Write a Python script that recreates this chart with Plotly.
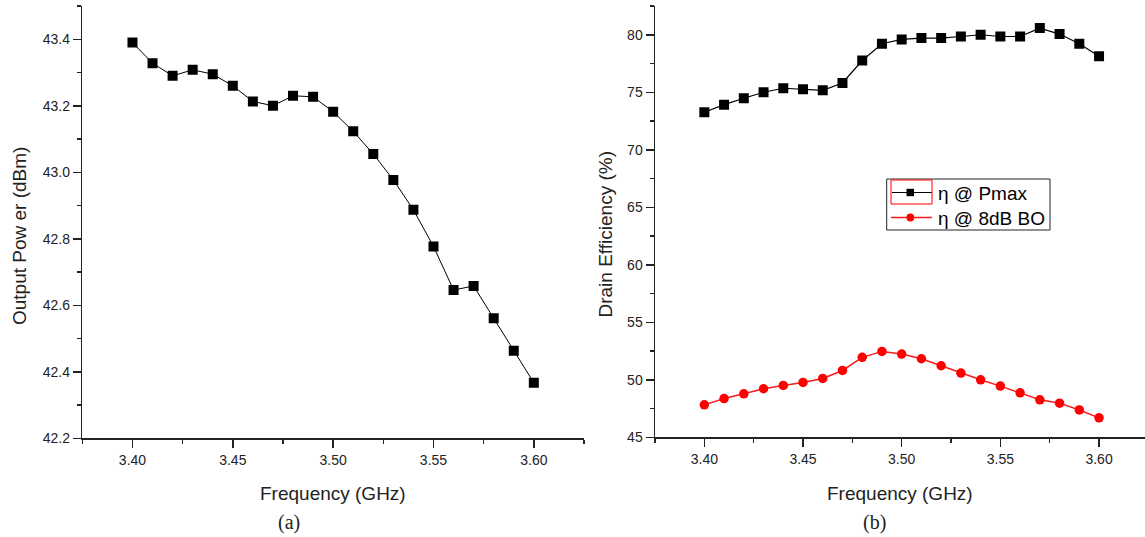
import plotly.graph_objects as go

freq = [3.40, 3.41, 3.42, 3.43, 3.44, 3.45, 3.46, 3.47, 3.48, 3.49, 3.50,
        3.51, 3.52, 3.53, 3.54, 3.55, 3.56, 3.57, 3.58, 3.59, 3.60]

pout = [43.39, 43.328, 43.29, 43.308, 43.295, 43.26, 43.213, 43.20, 43.23, 43.227, 43.182,
        43.123, 43.055, 42.977, 42.887, 42.777, 42.646, 42.658, 42.561, 42.463, 42.367]

eff_pmax = [73.26, 73.92, 74.48, 75.0, 75.35, 75.26, 75.17, 75.81, 77.76, 79.22, 79.59,
            79.71, 79.71, 79.85, 80.0, 79.85, 79.85, 80.58, 80.06, 79.22, 78.14]

eff_bo = [47.82, 48.37, 48.78, 49.22, 49.51, 49.77, 50.12, 50.81, 51.95, 52.47, 52.24,
          51.83, 51.22, 50.58, 50.0, 49.45, 48.87, 48.26, 47.97, 47.38, 46.69]

series_names = ["η @ Pmax", "η @ 8dB BO"]

W, H = 1145, 537
FONT = "Liberation Sans, Arial, sans-serif"
SERIF = "Liberation Serif, Times New Roman, serif"
AX = "#222222"
RED = "#ff1a1a"

def px_x(p):
    return p / W

def px_y(p):
    return 1 - p / H

fig = go.Figure()

fig.add_trace(go.Scatter(
    x=freq, y=pout, mode="lines+markers", xaxis="x", yaxis="y",
    line=dict(color="black", width=1),
    marker=dict(symbol="square", size=10, color="black"),
    showlegend=False))

fig.add_trace(go.Scatter(
    x=freq, y=eff_pmax, mode="lines+markers", xaxis="x2", yaxis="y2",
    name=series_names[0],
    line=dict(color="black", width=1.2),
    marker=dict(symbol="square", size=10, color="black"),
    showlegend=False))

fig.add_trace(go.Scatter(
    x=freq, y=eff_bo, mode="lines+markers", xaxis="x2", yaxis="y2",
    name=series_names[1],
    line=dict(color=RED, width=1.5),
    marker=dict(symbol="circle", size=9.5, color="red"),
    showlegend=False))

xcommon = dict(
    showgrid=False, zeroline=False, showline=True, linecolor=AX, linewidth=1.5,
    ticks="outside", ticklen=8, tickwidth=1.5, tickcolor=AX,
    tick0=3.40, dtick=0.05, tickformat=".2f",
    minor=dict(ticks="outside", ticklen=4, tickwidth=1.5, tickcolor=AX, dtick=0.025, tick0=3.375),
    tickfont=dict(family=FONT, size=14, color="#222"),
    automargin=False, fixedrange=True,
)
ycommon = dict(
    showgrid=False, zeroline=False, showline=True, linecolor=AX, linewidth=1.5,
    ticks="outside", ticklen=8, tickwidth=1.5, tickcolor=AX,
    tickfont=dict(family=FONT, size=14, color="#222"),
    automargin=False, fixedrange=True,
)

fig.update_layout(
    width=W, height=H,
    margin=dict(l=0, r=0, t=0, b=0),
    paper_bgcolor="white", plot_bgcolor="white",
    template="none",
    showlegend=False,
    hovermode=False,
    xaxis=dict(domain=[px_x(82.3), px_x(584)], range=[3.375, 3.625], anchor="y", **xcommon),
    yaxis=dict(domain=[px_y(438.3), px_y(6)], range=[42.2, 43.5], anchor="x",
               tick0=42.2, dtick=0.2, tickformat=".1f",
               minor=dict(ticks="outside", ticklen=4, tickwidth=1.5, tickcolor=AX, dtick=0.1, tick0=42.2),
               **ycommon),
    xaxis2=dict(domain=[px_x(655), 1.0], range=[3.375, 3.40 + (1145 - 704) / 1975.0], anchor="y2", **xcommon),
    yaxis2=dict(domain=[px_y(437.3), px_y(6)], range=[45, 82.5], anchor="x2",
                tick0=45, dtick=5,
                minor=dict(ticks="outside", ticklen=4, tickwidth=1.5, tickcolor=AX, dtick=2.5, tick0=45),
                **ycommon),
)

# ---- legend (drawn as decoration in pixel positions) ----
def rect(x0, y0, x1, y1, line_color, fill="rgba(0,0,0,0)", lw=1):
    fig.add_shape(type="rect", xref="paper", yref="paper",
                  x0=px_x(x0), x1=px_x(x1), y0=px_y(y1), y1=px_y(y0),
                  line=dict(color=line_color, width=lw), fillcolor=fill)

def hline(x0, x1, y, color, lw):
    fig.add_shape(type="line", xref="paper", yref="paper",
                  x0=px_x(x0), x1=px_x(x1), y0=px_y(y), y1=px_y(y),
                  line=dict(color=color, width=lw))

rect(886.7, 179, 1050, 230, "#222", fill="white", lw=1)
row_y = [192.5, 217.5]
hline(892, 932, row_y[0], "black", 1.2)
rect(906.5, row_y[0] - 3.7, 914, row_y[0] + 3.7, "black", fill="black", lw=0)
rect(891, 180, 932, 204, "red", lw=1)
hline(891, 932, row_y[1], RED, 1.5)
fig.add_shape(type="circle", xref="paper", yref="paper",
              x0=px_x(906.5), x1=px_x(914.2), y0=px_y(row_y[1] + 3.9), y1=px_y(row_y[1] - 3.9),
              line=dict(color="red", width=0), fillcolor="red")
for name, yy in zip(series_names, row_y):
    fig.add_annotation(text=name, x=px_x(936), y=px_y(yy + 0.8), xref="paper", yref="paper",
                       xanchor="left", yanchor="middle", showarrow=False,
                       font=dict(family=FONT, size=19, color="black"))

ann = [
    dict(text="Output Pow er (dBm)", x=px_x(19), y=px_y(236), textangle=-90, size=19, fam=FONT),
    dict(text="Drain Efficiency (%)", x=px_x(605), y=px_y(234.5), textangle=-90, size=19, fam=FONT),
    dict(text="Frequency (GHz)", x=px_x(333), y=px_y(493.5), textangle=0, size=19, fam=FONT),
    dict(text="Frequency (GHz)", x=px_x(900), y=px_y(493.5), textangle=0, size=19, fam=FONT),
    dict(text="(a)", x=px_x(289), y=px_y(522), textangle=0, size=20, fam=SERIF),
    dict(text="(b)", x=px_x(874.5), y=px_y(522), textangle=0, size=20, fam=SERIF),
]
for a in ann:
    fig.add_annotation(text=a["text"], x=a["x"], y=a["y"], xref="paper", yref="paper",
                       xanchor="center", yanchor="middle", showarrow=False,
                       textangle=a["textangle"],
                       font=dict(family=a["fam"], size=a["size"], color="#222"))

fig.write_html("out.html",
               config={"displayModeBar": False, "staticPlot": True},
               post_script="document.body.style.margin='0';document.body.style.overflow='hidden';")
